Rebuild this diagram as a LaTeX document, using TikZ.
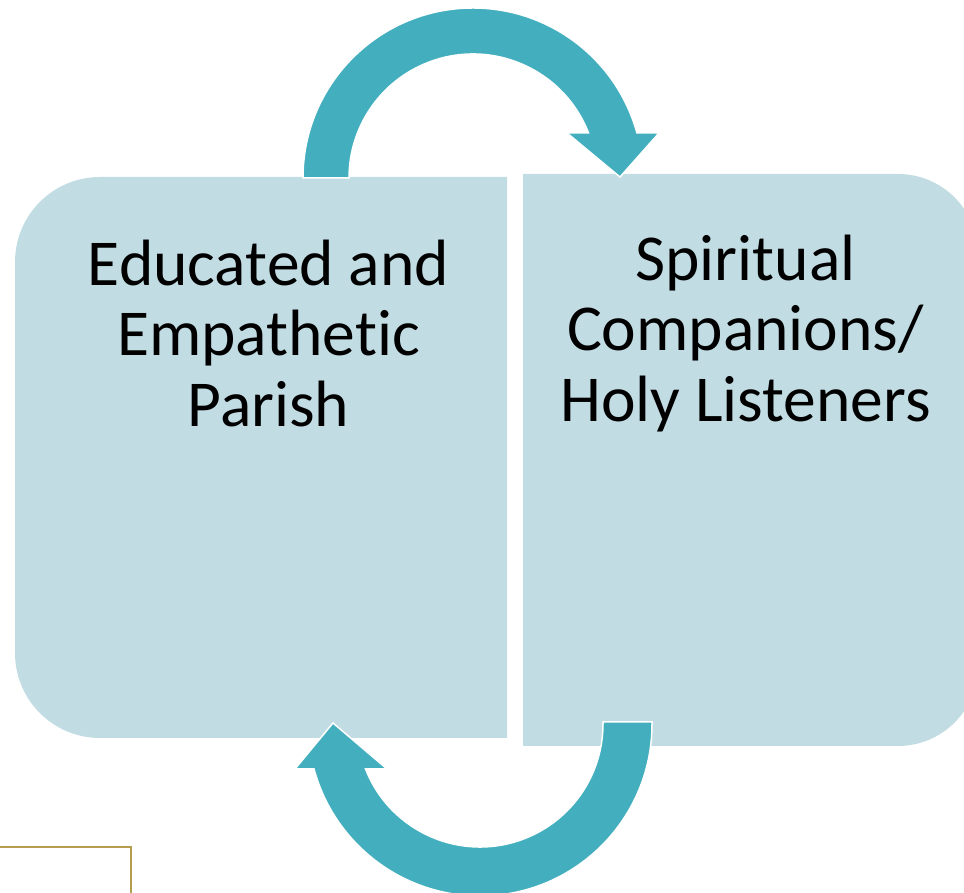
\documentclass[tikz,border=0pt]{standalone}
\usepackage{fontspec}
\setmainfont[Ligatures=NoCommon]{Carlito}
\usetikzlibrary{calc}
\definecolor{boxfill}{RGB}{193,220,227}
\definecolor{arrowteal}{RGB}{66,174,190}
\definecolor{goldline}{RGB}{182,156,78}
\tikzset{
  panel/.style={fill=boxfill},
  cyclearrow/.style={fill=arrowteal, draw=white, line width=1.5pt, line join=miter},
  paneltext/.style={anchor=north, inner sep=0pt, align=center, font=\fontsize{65.5}{70.5}\selectfont},
  frameline/.style={draw=goldline, line width=2pt}
}
\begin{document}
\begin{tikzpicture}[x=1pt,y=1pt]
\useasboundingbox (0,0) rectangle (964,893);
\clip (0,0) rectangle (964,893);
% left panel
\path[panel] (507,716) -- (100,716) arc[start angle=90,end angle=180,radius=85]
  -- (15,240) arc[start angle=180,end angle=270,radius=85] -- (507,155) -- cycle;
\coordinate (leftpanel) at (261,435);
% right panel
\path[panel] (523,719) -- (898,719) arc[start angle=90,end angle=0,radius=80]
  -- (978,227) arc[start angle=0,end angle=-90,radius=80] -- (523,147) -- cycle;
\coordinate (rightpanel) at (750,433);
% top arrow
\path[cyclearrow] (303,715) arc[start angle=180,end angle=15.35,radius=170]
  -- (659,760) -- (620,716) -- (567,760)
  -- ([shift={(473,715)}]21.28:124) arc[start angle=21.28,end angle=180,radius=124] -- cycle;
% bottom arrow
\path[cyclearrow] (652,171) -- (652,169) arc[start angle=0,end angle=-164.83,radius=172]
  -- (295,124) -- (333,170) -- (387,124)
  -- ([shift={(480,169)}]-158.54:123) arc[start angle=-158.54,end angle=0,radius=123] -- (603,171) -- cycle;
% texts
\node[paneltext] (lefttext) at (268.5,657.35) {\strut Educated and\\Empathetic\\Parish};
\node[paneltext] (righttext) at (745.5,662.35) {\strut Spiritual\\Companions/\\Holy Listeners};
% gold frame corner
\draw[frameline] (0,46) -- (131,46) -- (131,0);
\end{tikzpicture}
\end{document}
